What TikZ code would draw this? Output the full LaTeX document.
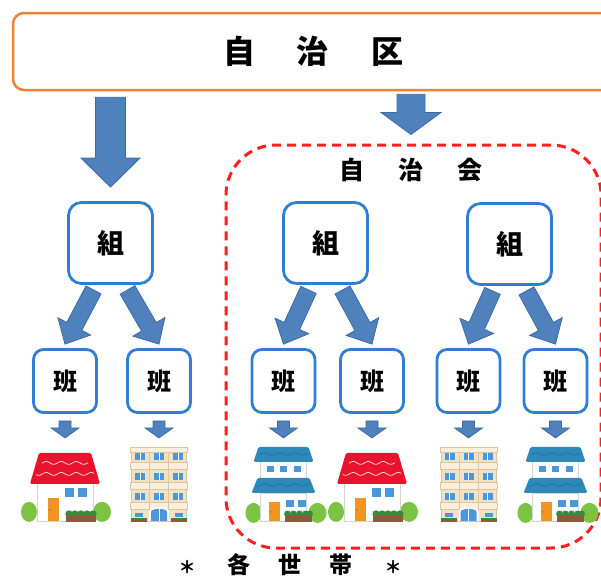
\documentclass[tikz,border=0pt]{standalone}
\usepackage{fontspec}
\newfontfamily\jpfont{Noto Sans CJK JP}
\usetikzlibrary{calc}
\definecolor{ku_line}{HTML}{EE8236}
\definecolor{box_line}{HTML}{2F7ED3}
\definecolor{arrow_fill}{HTML}{4F81BD}
\definecolor{arrow_line}{HTML}{3B6CA6}
\definecolor{kai_line}{HTML}{FF1E1E}
\definecolor{roof_red}{HTML}{E8142D}
\definecolor{roof_blue}{HTML}{2C89B9}
\definecolor{roof_wave}{HTML}{1D6C9C}
\definecolor{win_blue}{HTML}{4A97DA}
\definecolor{door_orange}{HTML}{F39322}
\definecolor{bush_green}{HTML}{7CC243}
\definecolor{plant_green}{HTML}{2F8F3A}
\definecolor{box_brown}{HTML}{8C5A3C}
\definecolor{wall_line}{HTML}{D4D4D4}
\definecolor{apt_body}{HTML}{F3E1C3}
\definecolor{apt_band}{HTML}{FBEEDB}
\definecolor{apt_line}{HTML}{DCC6A0}

\begin{document}
\begin{tikzpicture}[
    x=1pt, y=-1pt,
    font=\jpfont\bfseries,
    kubox/.style={draw=ku_line, line width=2.5pt, rounded corners=11pt,
        minimum width=600pt, minimum height=77pt,
        font=\jpfont\bfseries\fontsize{32}{32}\selectfont},
    kaibox/.style={draw=kai_line, line width=3pt, dash pattern=on 9pt off 6pt,
        rounded corners=50pt, minimum width=375pt, minimum height=403pt},
    kumibox/.style={draw=box_line, line width=2.8pt, rounded corners=13pt,
        minimum width=84pt, minimum height=81pt,
        font=\jpfont\bfseries\fontsize{27}{27}\selectfont},
    hanbox/.style={draw=box_line, line width=2.8pt, rounded corners=10pt,
        minimum width=63pt, minimum height=63pt,
        font=\jpfont\bfseries\fontsize{24}{24}\selectfont},
    arrowfill/.style={fill=arrow_fill, draw=arrow_line, line width=0.8pt},
    bush/.style={fill=bush_green},
    window/.style={fill=win_blue}
]
\useasboundingbox (0,0) rectangle (601,579);

% --- Frecce a blocco: coda, punta, mezza asta, mezza testa, lunghezza testa ---
\def\blockarrow#1#2#3#4#5{
    \coordinate (bat) at (#1);
    \coordinate (bah) at (#2);
    \coordinate (bab) at ($(bah)!#5!(bat)$);
    \filldraw[arrowfill] ($(bat)!#3!90:(bah)$) -- ($(bab)!#3!90:(bah)$)
        -- ($(bab)!#4!90:(bah)$) -- (bah) -- ($(bab)!#4!-90:(bah)$)
        -- ($(bab)!#3!-90:(bah)$) -- ($(bat)!#3!-90:(bah)$) -- cycle;
}

% --- Casa col tetto rosso ---
\def\redhouse{
    \fill[bush] (-36,-9) ellipse (8 and 10);
    \fill[bush] (37,-9) ellipse (9 and 10);
    \filldraw[draw=wall_line, fill=white, line width=0.6pt] (-28,-38) rectangle (28,0);
    \fill[window] (0,-33) rectangle (9,-24);
    \fill[window] (13,-33) rectangle (22,-24);
    \fill[door_orange] (-17,-23) rectangle (-6,0);
    \fill[box_brown] (-15,-11) circle (0.8);
    \fill[roof_red, rounded corners=1.5pt] (-26,-68) -- (26,-68) -- (35,-37) -- (-35,-37) -- cycle;
    \draw[white!80!roof_red, line width=0.8pt] plot[domain=-23:23, samples=70, smooth] (\x, {-58+1.4*sin(24*\x)});
    \draw[white!80!roof_red, line width=0.8pt] plot[domain=-29:29, samples=90, smooth] (\x, {-47+1.4*sin(24*\x)});
    \foreach \px in {4,10,16,22,28} {\fill[plant_green] (\px,-7) circle (3.6);}
    \fill[box_brown] (1,-6) rectangle (31,1);
}

% --- Casa blu a due piani ---
\def\bluehouse{
    \fill[bush] (-30,-8) ellipse (8 and 10);
    \fill[bush] (34,-8) ellipse (9 and 10);
    \filldraw[draw=wall_line, fill=white, line width=0.6pt] (-23,-28) rectangle (23,0);
    \filldraw[draw=wall_line, fill=white, line width=0.6pt] (-23,-60) rectangle (23,-42);
    \foreach \wx in {-17,-3.5,10} {\fill[window] (\wx,-55) rectangle ++(7,6);}
    \fill[window] (2,-21) rectangle (10,-14);
    \fill[window] (14,-21) rectangle (22,-14);
    \fill[door_orange] (-15,-19) rectangle (-4,0);
    \fill[box_brown] (-13,-9) circle (0.8);
    \fill[roof_blue, rounded corners=1.5pt] (-26,-43) -- (26,-43) -- (32,-28) -- (-32,-28) -- cycle;
    \fill[roof_blue, rounded corners=1.5pt] (-25,-74) -- (25,-74) -- (30,-59) -- (-30,-59) -- cycle;
    \draw[roof_wave, line width=0.6pt] plot[domain=-24:24, samples=70, smooth] (\x, {-67+1.2*sin(24*\x)});
    \draw[roof_wave, line width=0.6pt] plot[domain=-27:27, samples=80, smooth] (\x, {-36+1.2*sin(24*\x)});
    \foreach \px in {4,10,16,22,26} {\fill[plant_green] (\px,-7) circle (3.4);}
    \fill[box_brown] (1,-6) rectangle (28,1);
}

% --- Condominio ---
\def\apartment{
    \filldraw[fill=apt_body, draw=apt_line, line width=0.6pt] (-27.5,-72) rectangle (27.5,0);
    \filldraw[fill=apt_band, draw=apt_line, line width=0.5pt] (-28.5,-74) rectangle (28.5,-69);
    \foreach \by in {-59,-39,-19} {
        \filldraw[fill=apt_band, draw=apt_line, line width=0.5pt] (-28.5,\by) rectangle (28.5,\by+7);
    }
    \foreach \bx in {-9.5,9.5} {\draw[apt_line, line width=0.5pt] (\bx,-69) -- (\bx,-12);}
    \foreach \wy in {-68,-48,-28} {
        \foreach \wx in {-24,-5,14} {
            \fill[window] (\wx,\wy) rectangle ++(10,7);
            \draw[white, line width=0.5pt] (\wx+5,\wy) -- ++(0,7);
        }
    }
    \fill[white] (-10,0) -- (-10,-9) .. controls (-10,-15) and (10,-15) .. (10,-9) -- (10,0) -- cycle;
    \fill[win_blue] (-8,0) -- (-8,-9) .. controls (-8,-13) and (8,-13) .. (8,-9) -- (8,0) -- cycle;
    \draw[white, line width=0.5pt] (0,-12) -- (0,0);
    \fill[window] (-24,-8) rectangle (-16,-4);
    \fill[window] (16,-8) rectangle (24,-4);
    \fill[box_brown] (-28,-2) rectangle (-12,1);
    \fill[box_brown] (12,-2) rectangle (28,1);
    \fill[plant_green] (-28,-3) rectangle (-12,-2);
    \fill[plant_green] (12,-3) rectangle (28,-2);
}

% --- Riquadri ---
\node[kubox] (ku) at (313,51.5) {自\hspace{42pt}治\hspace{42pt}区};
\node[kaibox] (kai) at (413.5,346.5) {};
\node[font=\jpfont\bfseries\fontsize{25}{25}\selectfont] (kaititle) at (411,170)
    {自\hspace{34pt}治\hspace{34pt}会};

\node[kumibox] (kumiA) at (110.5,243) {組};
\node[kumibox] (kumiB) at (325.5,243) {組};
\node[kumibox] (kumiC) at (509.5,244) {組};

\node[hanbox] (hanA) at (65,381) {班};
\node[hanbox] (hanB) at (159,381) {班};
\node[hanbox] (hanC) at (283.5,381) {班};
\node[hanbox] (hanD) at (372,381) {班};
\node[hanbox] (hanE) at (468.5,381) {班};
\node[hanbox] (hanF) at (555.5,381) {班};

\node[font=\jpfont\bfseries\fontsize{23}{23}\selectfont] (setai) at (290,565)
    {{\fontsize{17}{17}\selectfont ＊}\hspace{32pt}各\hspace{28pt}世\hspace{28pt}帯\hspace{32pt}{\fontsize{17}{17}\selectfont ＊}};

% --- Frecce ---
\blockarrow{$(ku.south -| kumiA)+(0,6)$}{$(kumiA.north)+(0,-14)$}{15pt}{29.5pt}{29pt}
\blockarrow{$(ku.south -| kaititle)+(0,3)$}{$(kai.north -| kaititle)+(0,-9)$}{14pt}{30pt}{22pt}

\foreach \zu/\ha/\dx in {kumiA/hanA/-17, kumiA/hanB/17, kumiB/hanC/-17,
                         kumiB/hanD/17, kumiC/hanE/-17, kumiC/hanF/17}{
    \blockarrow{$(\zu.south)+(\dx,5)$}{$(\ha.north)+(0,-4)$}{8.5pt}{18.5pt}{20pt}
}

\foreach \ha in {hanA,hanB,hanC,hanD,hanE,hanF}{
    \blockarrow{$(\ha.south)+(0,7)$}{$(\ha.south)+(0,24)$}{6pt}{14pt}{10pt}
}

% --- Abitazioni ---
\foreach \ha/\house in {hanA/\redhouse, hanB/\apartment, hanC/\bluehouse,
                        hanD/\redhouse, hanE/\apartment, hanF/\bluehouse}{
    \begin{scope}[shift={($(\ha.south)+(0,107)$)}]
        \house
    \end{scope}
}

\end{tikzpicture}
\end{document}
